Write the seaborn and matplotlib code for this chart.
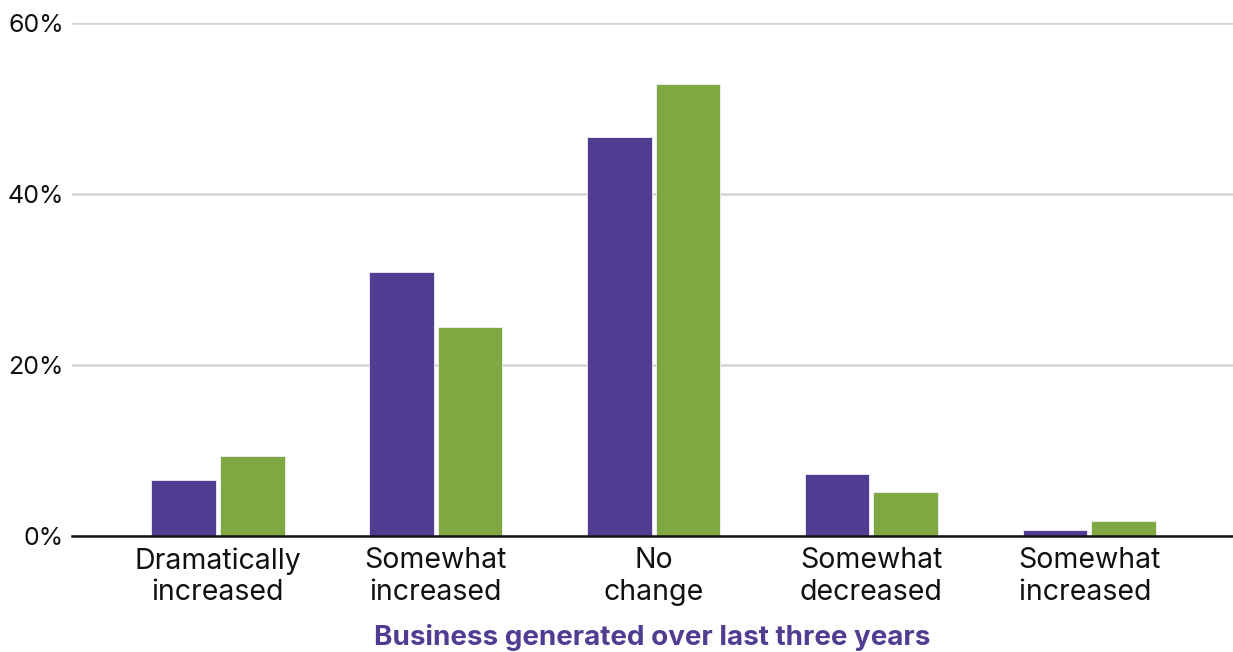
import matplotlib

matplotlib.use("Agg")
import matplotlib.pyplot as plt
import pandas as pd
import seaborn as sns

# Chart data (percent of respondents)
categories = ["Dramatically\nincreased", "Somewhat\nincreased", "No\nchange", "Somewhat\ndecreased", "Somewhat\nincreased "]
series_names = ["Series A", "Series B"]
series_a = [6.5, 30.9, 46.7, 7.3, 0.7]
series_b = [9.4, 24.4, 52.9, 5.1, 1.7]
y_ticks = [0, 20, 40, 60]

_PURPLE = "#503c91"
_GREEN = "#80a842"
_GRID = "#d3d3d3"
_INK = "#111111"

df = pd.DataFrame({
    "category": categories * 2,
    "series": [series_names[0]] * len(categories) + [series_names[1]] * len(categories),
    "value": series_a + series_b,
})

sns.set_style("white")
plt.rcParams["font.family"] = ["Inter", "DejaVu Sans"]

fig = plt.figure(figsize=(12.33, 6.52), dpi=100)
ax = fig.add_axes([0.0584, 0.178, 0.9416, 0.787])

sns.barplot(
    data=df,
    x="category",
    y="value",
    hue="series",
    order=categories,
    hue_order=series_names,
    palette=[_PURPLE, _GREEN],
    saturation=1,
    width=0.63,
    gap=0.06,
    legend=False,
    edgecolor="#f2f0f7",
    linewidth=0.6,
    ax=ax,
)

ax.set_ylim(0, 60)
ax.set_xlim(-0.67, 4.66)
ax.set_yticks(y_ticks)
ax.set_yticklabels([f"{t}%" for t in y_ticks])
ax.grid(True, axis="y", color=_GRID, linewidth=1.8)
ax.set_axisbelow(True)
for side in ("top", "right", "left"):
    ax.spines[side].set_visible(False)
ax.spines["bottom"].set_color(_INK)
ax.spines["bottom"].set_linewidth(1.8)
ax.spines["bottom"].set_zorder(5)
ax.tick_params(axis="both", length=0, labelcolor=_INK)
ax.tick_params(axis="y", pad=6, labelsize=18)
ax.tick_params(axis="x", pad=8, labelsize=20.5)
for lbl in ax.get_xticklabels():
    lbl.set_linespacing(1.22)

ax.set_ylabel("")
ax.set_xlabel("Business generated over last three years", color=_PURPLE,
              fontsize=20, fontweight="bold", labelpad=13)

fig.savefig("out.png", dpi=100)
